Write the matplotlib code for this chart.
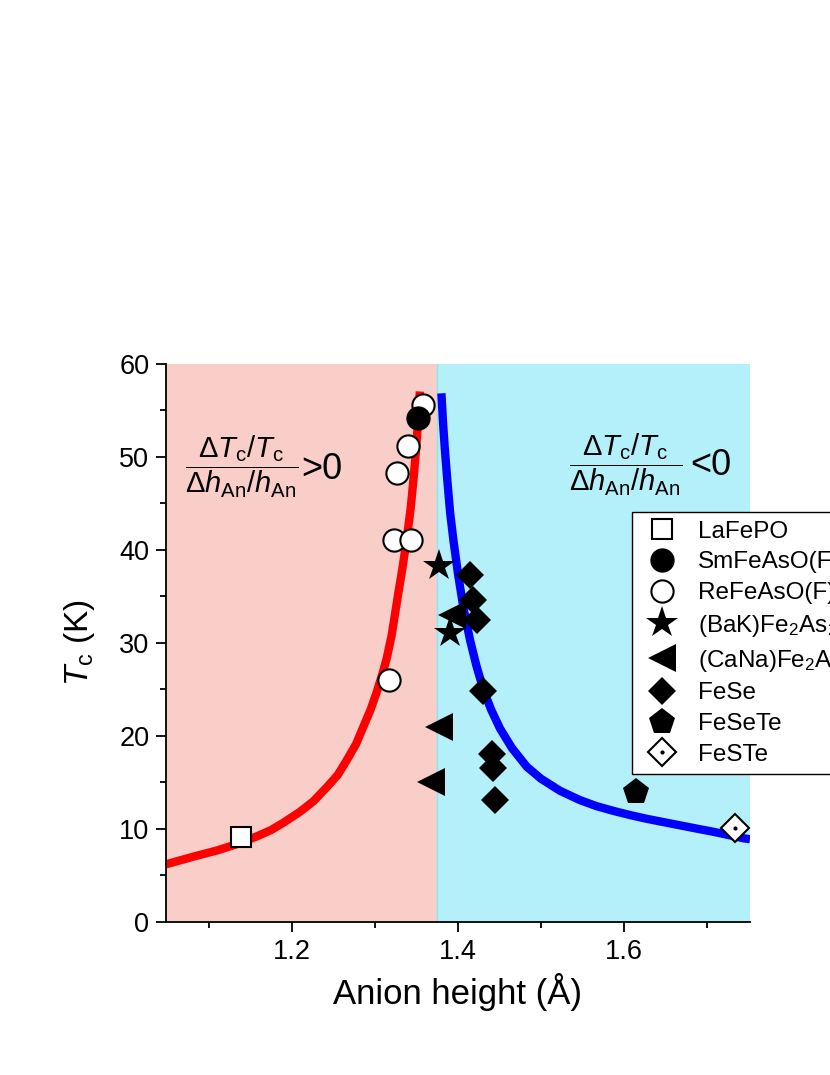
import matplotlib
matplotlib.use("Agg")
import matplotlib.pyplot as plt
from matplotlib.ticker import MultipleLocator

plt.rcParams['font.family'] = ['Liberation Sans', 'DejaVu Sans']
plt.rcParams['mathtext.fontset'] = 'custom'
plt.rcParams['mathtext.rm'] = 'Liberation Sans'
plt.rcParams['mathtext.it'] = 'Liberation Sans:italic'
plt.rcParams['mathtext.bf'] = 'Liberation Sans:bold'

# ---- data ----
la_x = [1.138]
la_y = [9.1]
sm_x = [1.352]
sm_y = [54.1]
re_x = [1.358, 1.340, 1.327, 1.323, 1.343, 1.317]
re_y = [55.5, 51.1, 48.2, 41.0, 41.0, 26.0]
bak_x = [1.377, 1.390]
bak_y = [38.2, 31.0]
cana_x = [1.3765, 1.368, 1.393]
cana_y = [21.0, 15.0, 33.0]
fese_x = [1.4145, 1.4185, 1.4225, 1.4297, 1.441, 1.4425, 1.4446]
fese_y = [37.3, 34.6, 32.4, 24.8, 18.1, 16.5, 13.1]
fesete_x = [1.6145]
fesete_y = [14.0]
feste_x = [1.7337]
feste_y = [10.1]

# guide curves, points
red_x = [1.048, 1.080, 1.110, 1.138, 1.160, 1.175, 1.190, 1.2096, 1.226, 1.242,
         1.255, 1.266, 1.277, 1.286, 1.295, 1.302, 1.309, 1.314, 1.320, 1.328,
         1.333, 1.338, 1.343, 1.347, 1.350, 1.352, 1.354]
red_y = [6.2, 7.0, 7.7, 8.5, 9.3, 9.9, 10.7, 11.85, 13.0, 14.5,
         15.8, 17.4, 19.1, 21.0, 22.9, 24.7, 26.7, 28.3, 30.8, 35.3,
         38.0, 41.0, 44.5, 48.2, 51.4, 54.1, 57.0]
blue_x = [1.380, 1.382, 1.384, 1.387, 1.3905, 1.3945, 1.400, 1.4065, 1.4145, 1.422,
          1.4305, 1.440, 1.4506, 1.465, 1.4828, 1.500, 1.523, 1.547, 1.567, 1.587,
          1.607, 1.627, 1.647, 1.667, 1.687, 1.7076, 1.726, 1.744, 1.752]
blue_y = [56.8, 53.6, 51.0, 47.6, 44.0, 41.0, 37.4, 33.8, 30.3, 27.6,
          25.0, 22.8, 20.8, 18.7, 16.7, 15.4, 14.1, 13.1, 12.45, 11.95,
          11.5, 11.1, 10.75, 10.4, 10.05, 9.7, 9.35, 9.0, 8.9]

labels = ['LaFePO', 'SmFeAsO(F)', 'ReFeAsO(F)', r'(BaK)Fe$_2$As$_2$',
          r'(CaNa)Fe$_2$As$_2$', 'FeSe', 'FeSeTe', 'FeSTe']

xmin, xmax = 1.048, 1.752
boundary = 1.375

fig = plt.figure(figsize=(8.3, 10.75), dpi=100)
ax = fig.add_axes([0.2, 0.1423, 0.7036, 0.5195])

ax.axvspan(xmin, boundary, color='#F9CEC9', zorder=0, lw=0)
ax.axvspan(boundary, xmax, color='#B4F0FA', zorder=0, lw=0)
ax.axvline(boundary, color='#8EE6EE', lw=1.0, zorder=0.5)

ax.plot(red_x, red_y, color='#FF0000', lw=6, solid_capstyle='butt',
        solid_joinstyle='round', zorder=2)
ax.plot(blue_x, blue_y, color='#0000FF', lw=6, solid_capstyle='butt',
        solid_joinstyle='round', zorder=2)

mk = dict(linestyle='none', markeredgecolor='black', markeredgewidth=1.5)
h_la, = ax.plot(la_x, la_y, marker='s', ms=14.5, mfc='white', zorder=3, **mk)
h_re, = ax.plot(re_x, re_y, marker='o', ms=16, mfc='white', zorder=3, **mk)
h_sm, = ax.plot(sm_x, sm_y, marker='o', ms=16, mfc='black', zorder=4, **mk)
h_cana, = ax.plot(cana_x, cana_y, marker='<', ms=20, mfc='black', zorder=3,
                  linestyle='none', markeredgewidth=0)
h_bak, = ax.plot(bak_x, bak_y, marker='*', ms=24, mfc='black', zorder=4,
                 linestyle='none', markeredgewidth=0)
h_fese, = ax.plot(fese_x, fese_y, marker='D', ms=14.5, mfc='black', zorder=5,
                  linestyle='none', markeredgewidth=0)
h_fst, = ax.plot(fesete_x, fesete_y, marker='p', ms=20, mfc='black', zorder=5,
                 linestyle='none', markeredgewidth=0)
h_fs1, = ax.plot(feste_x, feste_y, marker='D', ms=14, mfc='white', zorder=6, **mk)
h_fs2, = ax.plot(feste_x, feste_y, marker='o', ms=2, mfc='black', mec='black',
                 linestyle='none', zorder=7)

ax.set_xlim(xmin, xmax)
ax.set_ylim(0, 60)
ax.xaxis.set_minor_locator(MultipleLocator(0.1))
ax.yaxis.set_major_locator(MultipleLocator(10))
ax.yaxis.set_minor_locator(MultipleLocator(5))
ax.set_xticks([1.2, 1.4, 1.6])
ax.set_xticklabels(['1.2', '1.4', '1.6'])

for s in ['top', 'right']:
    ax.spines[s].set_visible(False)
for s in ['left', 'bottom']:
    ax.spines[s].set_linewidth(1.3)
ax.tick_params(which='major', direction='out', length=7, width=1.3,
               labelsize=19.5, pad=5)
ax.tick_params(which='minor', direction='out', length=4, width=1.3)

ax.set_xlabel('Anion height (Å)', fontsize=25, labelpad=6)
ax.set_ylabel(r'$T_\mathrm{c}$ (K)', fontsize=24, labelpad=16)

frac = r'$\dfrac{\Delta T_\mathrm{c}/T_\mathrm{c}}{\Delta h_\mathrm{An}/h_\mathrm{An}}$'
ax.text(1.1398, 48.9, frac, fontsize=21, ha='center', va='center', zorder=8)
ax.text(1.236, 48.6, '>0', fontsize=26, ha='center', va='center', zorder=8)
ax.text(1.6024, 49.1, frac, fontsize=21, ha='center', va='center', zorder=8)
ax.text(1.7050, 49.0, '<0', fontsize=26, ha='center', va='center', zorder=8)

leg = ax.legend([h_la, h_sm, h_re, h_bak, h_cana, h_fese, h_fst, (h_fs1, h_fs2)],
                labels, loc='upper left',
                bbox_to_anchor=(632 / 830, (1075 - 512) / 1075),
                bbox_transform=fig.transFigure, borderaxespad=0,
                fontsize=17.5, frameon=True, fancybox=False, framealpha=1,
                edgecolor='black', handlelength=1.8, handletextpad=0.57,
                labelspacing=0.36, borderpad=0.35, numpoints=1)
leg.get_frame().set_linewidth(1.0)
leg.set_zorder(10)

fig.savefig('out.png', dpi=100)
